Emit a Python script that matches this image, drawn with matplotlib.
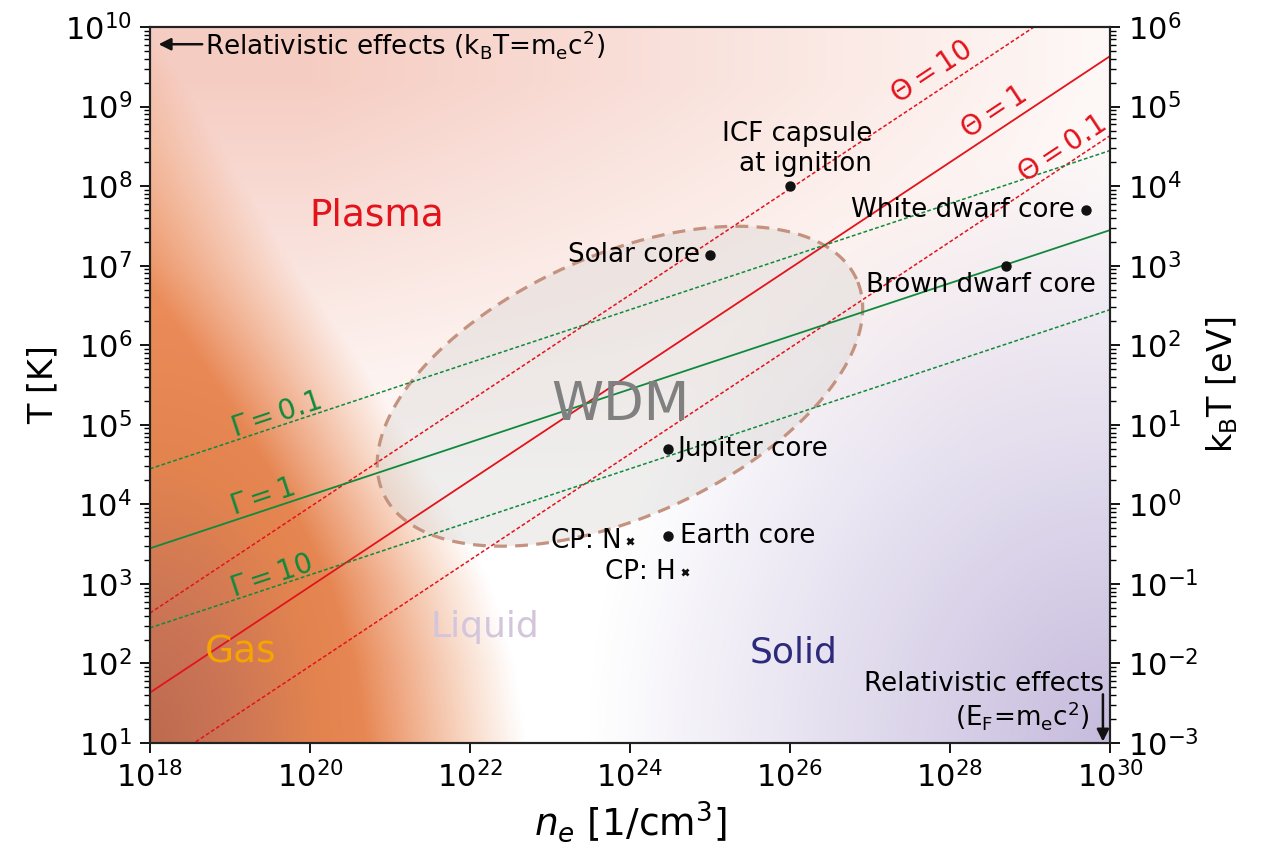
import numpy as np
import matplotlib
matplotlib.use('Agg')
import matplotlib.pyplot as plt
from matplotlib.colors import LinearSegmentedColormap, to_rgb
from matplotlib.ticker import LogLocator, NullLocator, NullFormatter

# ---- data (n_e in 1/cm^3, T in K) ----
point_names = ['ICF capsule\nat ignition', 'Solar core', 'White dwarf core',
               'Brown dwarf core', 'Jupiter core', 'Earth core']
point_ne = [1e26, 1.0e25, 5e29, 5e28, 3e24, 3e24]
point_T = [1e8, 1.35e7, 5e7, 1e7, 5e4, 4e3]

cp_names = ['CP: N', 'CP: H']
cp_ne = [1e24, 4.9e24]
cp_T = [3.5e3, 1.4e3]

# degeneracy lines Theta, endpoints at n_e = 1e18 and 1e30
theta_values = [10, 1, 0.1]
theta_T_left = [430, 43, 4.3]
theta_T_right = [4.3e10, 4.3e9, 4.3e8]

# coupling lines Gamma, endpoints at n_e = 1e18 and 1e30
gamma_values = [0.1, 1, 10]
gamma_T_left = [2.8e4, 2.8e3, 2.8e2]
gamma_T_right = [2.8e8, 2.8e7, 2.8e6]

ne_range = [1e18, 1e30]

# WDM ellipse in log10 space: centre, semi axes (decades), tilt (deg)
wdm_centre = (23.875, 5.485)
wdm_axes = (3.25, 1.64)
wdm_tilt = 24.5

red = '#e3131c'
green = '#0f8a3c'

fig = plt.figure(figsize=(12.73, 8.48), dpi=100)
ax = fig.add_axes([0.1178, 0.1238, 0.7541, 0.8443])

# ---- background colour wash (log10 n_e, log10 T grid) ----
X, Y = np.meshgrid(np.linspace(18, 30, 600), np.linspace(1, 10, 450))
img = np.ones(X.shape + (3,))

def blend(img, color, w):
    w = np.clip(w, 0, 1)[..., None]
    if isinstance(color, str):
        color = np.array(to_rgb(color))
    return img * (1 - w) + color * w

# solid (purple, bottom right)
d = np.hypot((30 - X) / 6.5, (Y - 1) / 7.5)
img = blend(img, '#c6bbdd', 1 - d)
# plasma (pink, top)
img = blend(img, '#f4c4b8', 0.85 * np.clip((Y - 4.3) / 5, 0, 1) * np.clip((31.5 - X) / 11.5, 0, 1))
# gas (orange -> brown, lower left), fades out across a curved edge
edge = np.interp(Y, [1, 2, 3, 4, 5, 6, 7, 8, 9, 10],
                 [21.7, 21.55, 21.25, 20.75, 20.15, 19.5, 18.8, 18.2, 17.6, 17.0])
w_gas = np.clip((edge - X) / 2.0 + 0.5, 0, 1)
gas_cmap = LinearSegmentedColormap.from_list(
    'gas', [(0, '#bd6a50'), (0.23, '#cc7656'), (0.47, '#e3844f'),
            (0.7, '#ea8a58'), (1, '#ee9966')])
r = np.hypot((X - 18) / 3, (Y - 1) / 5)
gas_rgb = gas_cmap(np.clip(r / 1.5, 0, 1))[..., :3]
img = blend(img, gas_rgb, w_gas)

ax.imshow(img, extent=[0, 1, 0, 1], transform=ax.transAxes, origin='lower',
          aspect='auto', zorder=0, interpolation='bilinear')

ax.set_xscale('log')
ax.set_yscale('log')
ax.set_xlim(1e18, 1e30)
ax.set_ylim(1e1, 1e10)

# ---- WDM ellipse ----
t = np.linspace(0, 2 * np.pi, 400)
th = np.radians(wdm_tilt)
ex = wdm_centre[0] + wdm_axes[0] * np.cos(t) * np.cos(th) - wdm_axes[1] * np.sin(t) * np.sin(th)
ey = wdm_centre[1] + wdm_axes[0] * np.cos(t) * np.sin(th) + wdm_axes[1] * np.sin(t) * np.cos(th)
ax.fill(10**ex, 10**ey, color='#d8d6d4', alpha=0.4, zorder=1, lw=0)
ax.plot(10**ex, 10**ey, color='#c4927e', lw=2.3, ls=(0, (4, 2.6)), zorder=2)


def screen_angle(x0, y0, x1, y1):
    p = ax.transData.transform([(x0, y0), (x1, y1)])
    return np.degrees(np.arctan2(p[1, 1] - p[0, 1], p[1, 0] - p[0, 0]))


# ---- Theta lines ----
theta_label_pos = [(10**27.775, 10**9.43), (10**28.55, 10**8.93), (10**29.4, 10**8.46)]
for val, tl, tr, pos in zip(theta_values, theta_T_left, theta_T_right, theta_label_pos):
    ls = '-' if val == 1 else (0, (2.5, 1.5))
    lw = 1.3 if val == 1 else 1.1
    ax.plot(ne_range, [tl, tr], color=red, lw=lw, ls=ls, zorder=3)
    ang = screen_angle(ne_range[0], tl, ne_range[1], tr)
    ax.text(pos[0], pos[1], r'$\Theta=%g$' % val, color=red, fontsize=20,
            rotation=ang, rotation_mode='anchor', ha='center', va='center', zorder=5)

# ---- Gamma lines ----
gamma_label_pos = [(10**19.575, 10**5.13), (10**19.41, 10**4.09), (10**19.51, 10**3.10)]
for val, tl, tr, pos in zip(gamma_values, gamma_T_left, gamma_T_right, gamma_label_pos):
    ls = '-' if val == 1 else (0, (2.5, 1.5))
    lw = 1.3 if val == 1 else 1.1
    ax.plot(ne_range, [tl, tr], color=green, lw=lw, ls=ls, zorder=3)
    ang = screen_angle(ne_range[0], tl, ne_range[1], tr)
    ax.text(pos[0], pos[1], r'$\Gamma=%g$' % val, color=green, fontsize=20,
            rotation=ang, rotation_mode='anchor', ha='center', va='center', zorder=5)

# ---- reference points ----
ax.plot(point_ne, point_T, 'o', color='#111111', ms=6.5, zorder=6)
ax.plot(cp_ne, cp_T, 'x', color='#111111', ms=5, mew=2, zorder=6)

fs = 18.8
ax.text(10**27.03, 10**8.12, point_names[0], ha='right', va='bottom', fontsize=fs,
        multialignment='right', zorder=7)
ax.text(10**24.875, point_T[1], point_names[1], ha='right', va='center', fontsize=fs, zorder=7)
ax.text(10**29.56, point_T[2], point_names[2], ha='right', va='center', fontsize=fs, zorder=7)
ax.text(10**28.39, 10**6.76, point_names[3], ha='center', va='center', fontsize=fs, zorder=7)
ax.text(10**24.59, point_T[4], point_names[4], ha='left', va='center', fontsize=fs, zorder=7)
ax.text(10**24.62, point_T[5], point_names[5], ha='left', va='center', fontsize=fs, zorder=7)
ax.text(10**23.9, cp_T[0], cp_names[0], ha='right', va='center', fontsize=fs, zorder=7)
ax.text(10**24.57, cp_T[1], cp_names[1], ha='right', va='center', fontsize=fs, zorder=7)

# ---- region labels ----
ax.text(10**20.84, 10**7.63, 'Plasma', color=red, fontsize=27, ha='center', va='center', zorder=7)
ax.text(10**23.875, 10**5.25, 'WDM', color='#808080', fontsize=38, ha='center', va='center', zorder=7)
ax.text(10**19.14, 10**2.14, 'Gas', color='#f5a400', fontsize=27, ha='center', va='center', zorder=7)
ax.text(10**22.19, 10**2.46, 'Liquid', color='#d3c6dc', fontsize=26, ha='center', va='center', zorder=7)
ax.text(10**26.05, 10**2.14, 'Solid', color='#2d2a7c', fontsize=26, ha='center', va='center', zorder=7)

# ---- relativistic limits ----
ax.annotate('Relativistic effects (k$_\\mathregular{B}$T=m$_\\mathregular{e}$c$^\\mathregular{2}$)',
            xy=(0.009, 0.976), xytext=(0.0573, 0.976), xycoords='axes fraction',
            textcoords='axes fraction', ha='left', va='center', fontsize=fs, zorder=7,
            arrowprops=dict(arrowstyle='-|>', color='#111111', lw=1.8, mutation_scale=18,
                            shrinkA=0, shrinkB=0))
ax.text(0.994, 0.083, 'Relativistic effects', transform=ax.transAxes, ha='right',
        va='center', fontsize=fs, zorder=7)
ax.text(0.979, 0.038, '(E$_\\mathregular{F}$=m$_\\mathregular{e}$c$^\\mathregular{2}$)',
        transform=ax.transAxes, ha='right', va='center', fontsize=fs, zorder=7)
ax.annotate('', xy=(0.9927, 0.002), xytext=(0.9927, 0.068), xycoords='axes fraction',
            arrowprops=dict(arrowstyle='-|>', color='#111111', lw=1.8, mutation_scale=18,
                            shrinkA=0, shrinkB=0), zorder=7)

# ---- axes styling ----
ax.set_xticks([10.0**k for k in range(18, 31, 2)])
ax.xaxis.set_minor_locator(NullLocator())
ax.yaxis.set_major_locator(LogLocator(base=10, numticks=20))
ax.yaxis.set_minor_locator(LogLocator(base=10, subs=np.arange(2, 10), numticks=20))
ax.yaxis.set_minor_formatter(NullFormatter())
ax.tick_params(which='major', labelsize=22, length=7, width=1.3, pad=6)
ax.tick_params(which='minor', length=4, width=1.0)
ax.set_xlabel(r'$n_e$ [1/cm$^3$]', fontsize=27)
ax.set_ylabel('T [K]', fontsize=24)

ax2 = ax.twinx()
ax2.set_yscale('log')
ax2.set_ylim(1e-3, 1e6)
ax2.yaxis.set_major_locator(LogLocator(base=10, numticks=20))
ax2.yaxis.set_minor_locator(LogLocator(base=10, subs=np.arange(2, 10), numticks=20))
ax2.yaxis.set_minor_formatter(NullFormatter())
ax2.tick_params(which='major', labelsize=22, length=7, width=1.3, pad=6)
ax2.tick_params(which='minor', length=4, width=1.0)
ax2.set_ylabel('k$_\\mathregular{B}$T [eV]', fontsize=24)

for a in (ax, ax2):
    for s in a.spines.values():
        s.set_linewidth(1.5)
        s.set_color('#222222')

fig.savefig('out.png', dpi=100)
